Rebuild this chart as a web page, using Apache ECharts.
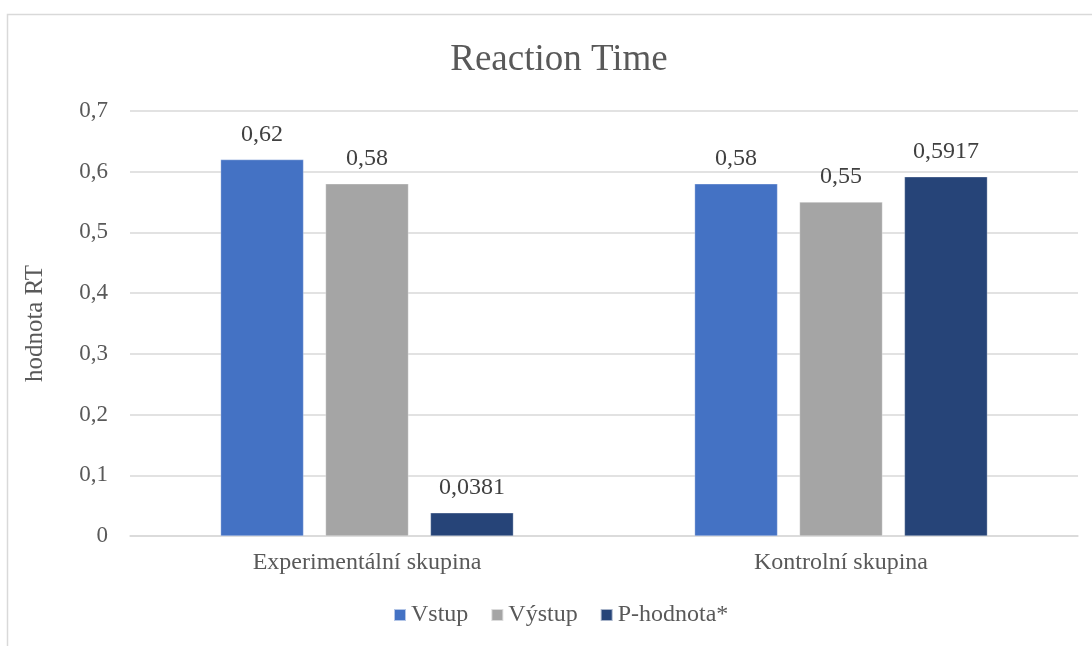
<!DOCTYPE html>
<html>
<head>
<meta charset="utf-8">
<script src="https://cdn.jsdelivr.net/npm/echarts@6/dist/echarts.min.js"></script>
<style>
  html, body { margin: 0; padding: 0; background: #fff; }
  #chart { width: 1092px; height: 646px; }
</style>
</head>
<body>
<div id="chart"></div>
<script>
// Reaction time per group: input, output and p-value
const categories = ['Experimentální skupina', 'Kontrolní skupina'];
const vstup = [0.62, 0.58];
const vystup = [0.58, 0.55];
const pHodnota = [0.0381, 0.5917];
const seriesNames = ['Vstup', 'Výstup', 'P-hodnota*'];

const FONT = '"Liberation Serif", "Times New Roman", serif';
const comma = v => String(v).replace('.', ',');

const chart = echarts.init(document.getElementById('chart'));

function barSeries(name, data, color) {
  return {
    name: name,
    type: 'bar',
    data: data,
    barWidth: '17.5%',
    barGap: '26.5%',
    itemStyle: { color: color, borderColor: 'rgba(255,255,255,0.6)', borderWidth: 0.5 },
    label: {
      show: true,
      position: 'top',
      distance: 13,
      fontFamily: FONT,
      fontSize: 24,
      color: '#404040',
      formatter: p => comma(p.value)
    }
  };
}

chart.setOption({
  animation: false,
  backgroundColor: '#fff',
  graphic: [{
    type: 'rect',
    shape: { x: 7.5, y: 14.5, width: 1200, height: 800 },
    style: { fill: 'none', stroke: '#d9d9d9', lineWidth: 1.5 },
    silent: true,
    z: -1
  }],
  title: {
    text: 'Reaction Time',
    left: 554,
    textAlign: 'center',
    top: 37,
    textStyle: { fontFamily: FONT, fontSize: 37, fontWeight: 'normal', color: '#595959' }
  },
  legend: {
    data: seriesNames,
    left: 388,
    orient: 'horizontal',
    bottom: 14,
    icon: 'rect',
    itemWidth: 12,
    itemHeight: 12,
    itemGap: 22,
    textStyle: { fontFamily: FONT, fontSize: 24, color: '#595959' }
  },
  grid: { left: 130, right: 14, top: 111, bottom: 110, containLabel: false },
  xAxis: {
    type: 'category',
    data: categories,
    axisLine: { lineStyle: { color: '#d9d9d9', width: 1.5 } },
    axisTick: { show: false },
    axisLabel: { fontFamily: FONT, fontSize: 24, color: '#595959', margin: 15 }
  },
  yAxis: {
    type: 'value',
    min: 0,
    max: 0.7,
    interval: 0.1,
    name: 'hodnota RT',
    nameLocation: 'middle',
    nameGap: 82,
    nameTextStyle: { fontFamily: FONT, fontSize: 25, color: '#595959' },
    axisLine: { show: false },
    axisTick: { show: false },
    splitLine: { lineStyle: { color: '#d9d9d9', width: 1.5 } },
    axisLabel: {
      fontFamily: FONT, fontSize: 23, color: '#595959', margin: 22,
      formatter: v => comma(Math.round(v * 10) / 10)
    }
  },
  series: [
    barSeries(seriesNames[0], vstup, '#4472C4'),
    barSeries(seriesNames[1], vystup, '#A5A5A5'),
    barSeries(seriesNames[2], pHodnota, '#264478')
  ]
});
</script>
</body>
</html>
